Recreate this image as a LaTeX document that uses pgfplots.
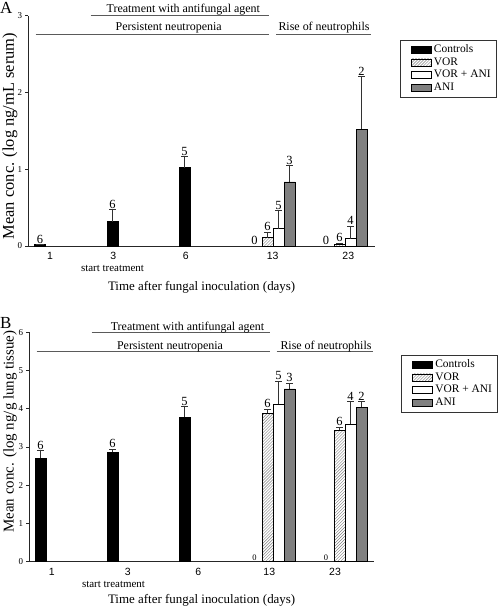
\documentclass[border=0pt]{standalone}
\usepackage{fontspec}
\setmainfont{Liberation Serif}
\setsansfont{Liberation Sans}
\usepackage{pgfplots}
\pgfplotsset{compat=1.18}
\usepackage{pgfplotstable}
\usetikzlibrary{patterns}
\definecolor{anigray}{RGB}{128,128,128}
\definecolor{errc}{RGB}{50,50,50}
\definecolor{anncol}{RGB}{90,90,90}

% ---------- Panel A data (x = horizontal position, y = mean, e = +error) ----------
\pgfplotstableread{
x y e
40 0.02 0
112.5 0.316 0.154
184.5 1.02 0.14
}\AControls
\pgfplotstableread{
x y e
267.5 0.108 0.072
339.5 0.025 0.01
}\AVOR
\pgfplotstableread{
x y e
278.5 0.225 0.235
350.5 0.095 0.165
}\AVORANI
\pgfplotstableread{
x y e
289.5 0.835 0.215
361.5 1.52 0.69
}\AANI
\pgfplotstableread{
x y n
40 0.02 6
112.5 0.47 6
184.5 1.16 5
254.5 0 0
267.5 0.18 6
278.5 0.46 5
289.5 1.05 3
326 0 0
339.5 0.035 6
350.5 0.26 4
361.5 2.21 2
}\ALabels

% ---------- Panel B data ----------
\pgfplotstableread{
x y e
40.5 2.70 0.20
112.5 2.86 0.08
184.5 3.78 0.27
}\BControls
\pgfplotstableread{
x y e
267.5 3.88 0.11
339.5 3.44 0.08
}\BVOR
\pgfplotstableread{
x y e
278.5 4.12 0.60
350.5 3.60 0.59
}\BVORANI
\pgfplotstableread{
x y e
289.5 4.52 0.15
361.5 4.04 0.15
}\BANI
\pgfplotstableread{
x y n
40.5 2.90 6
112.5 2.94 6
184.5 4.05 5
267.5 3.99 6
278.5 4.72 5
289.5 4.67 3
339.5 3.52 6
350.5 4.19 4
361.5 4.19 2
}\BLabels
\pgfplotstableread{
x y n
254.5 0 0
326 0 0
}\BZeros

\pgfplotsset{
  mylegend/.style={legend image code/.code={\path (0bp,0bp) (28bp,0bp);\draw[##1] (6.5bp,-3.5bp) rectangle (26.5bp,3.5bp);}},
  mybar/.style={ybar, bar width=11, bar shift=0pt, mylegend, draw=black, line width=0.6pt,
    error bars/y dir=plus, error bars/y explicit,
    error bars/error bar style={color=errc, line width=0.8pt},
    error bars/error mark options={rotate=90, mark size=3.5bp, color=errc, line width=0.8pt}},
  lbl/.style={draw=none, mark=none, forget plot, nodes near coords, point meta=explicit symbolic,
    every node near coord/.append style={anchor=south, inner sep=1pt, text=black, font=\fontsize{12.5}{12.5}\selectfont}},
  panel/.style={
    scale only axis, enlargelimits=false, clip=false,
    axis x line*=bottom, axis y line*=left,
    axis line style={line width=0.8pt, color=black!85},
    tick align=outside,
    xtick style={draw=none},
    ytick style={line width=0.8pt, color=black!85},
    major tick length=3bp,
    xticklabel style={font=\fontsize{10.5}{10.5}\sffamily, inner sep=0pt, anchor=north},
    xticklabel shift=3bp,
    yticklabel style={font=\fontsize{9}{9}\selectfont, inner sep=0pt, anchor=east},
    yticklabel shift=3bp,
    /pgf/number format/assume math mode=true,
    legend cell align=left,
    legend style={anchor=north west, draw=black!80, line width=0.6pt,
      font=\fontsize{11.5}{11.5}\selectfont, inner xsep=4.5bp, inner ysep=3.3bp,
      row sep=0pt, nodes={inner sep=1pt, text height=8bp, text depth=2.5bp}},
    xlabel style={font=\fontsize{13}{13}\selectfont, at={(axis description cs:0.5,0)}, anchor=base},
    ylabel style={rotate=0, anchor=center},
  },
}

\begin{document}
\begin{tikzpicture}
% ===================== Panel A =====================
\begin{axis}[panel,
  at={(28.3bp,-246bp)}, anchor=south west,
  width=346.7bp, height=230.5bp,
  xmin=28.3, xmax=375, ymin=0, ymax=3,
  xtick={50,113.3,185.7,272.7,348.3}, xticklabels={1,3,6,13,23},
  ytick={0,1,2,3},
  xlabel={Time after fungal inoculation (days)},
  xlabel style={yshift=-44bp},
  ylabel={Mean conc. (log ng/mL serum)},
  ylabel style={font=\fontsize{16.5}{16.5}\selectfont, at={(axis description cs:-0.0528,0.477)}},
  legend style={at={(axis description cs:1.0707,0.8937)}},
]
\addplot[mybar, fill=black] table[x=x,y=y,y error=e] {\AControls};
\addlegendentry{Controls}
\addplot[mybar, fill=white, pattern=north east lines, pattern color=gray] table[x=x,y=y,y error=e] {\AVOR};
\addlegendentry{VOR}
\addplot[mybar, fill=white] table[x=x,y=y,y error=e] {\AVORANI};
\addlegendentry{VOR + ANI}
\addplot[mybar, fill=anigray] table[x=x,y=y,y error=e] {\AANI};
\addlegendentry{ANI}
\addplot[lbl] table[x=x,y=y,meta=n] {\ALabels};
% period annotations
\draw[anncol, line width=0.8pt] (axis cs:90.7,3.0) -- (axis cs:269,3.0);
\draw[anncol, line width=0.8pt] (axis cs:35.7,2.75) -- (axis cs:269,2.75);
\draw[anncol, line width=0.8pt] (axis cs:276,2.75) -- (axis cs:370.7,2.75);
\node[anchor=base, font=\fontsize{12}{12}\selectfont] at (axis cs:183.3,3.042) {Treatment with antifungal agent};
\node[anchor=base, font=\fontsize{12}{12}\selectfont] at (axis cs:168.7,2.805) {Persistent neutropenia};
\node[anchor=base, font=\fontsize{12}{12}\selectfont] at (axis cs:324,2.805) {Rise of neutrophils};
\node[anchor=base, font=\fontsize{11}{11}\selectfont, yshift=-25bp] at (axis cs:112.5,0) {start treatment};
\end{axis}

% ===================== Panel B =====================
\begin{axis}[panel,
  at={(29.3bp,-561.7bp)}, anchor=south west,
  width=344.7bp, height=229.4bp,
  xmin=29.3, xmax=374, ymin=0, ymax=6,
  xtick={51.7,127.7,198.3,269.3,335}, xticklabels={1,3,6,13,23},
  ytick={0,1,2,3,4,5,6},
  xlabel={Time after fungal inoculation (days)},
  xlabel style={yshift=-41.8bp},
  ylabel={Mean conc. (log ng/g lung tissue)},
  ylabel style={font=\fontsize{15}{15}\selectfont, at={(axis description cs:-0.056,0.5676)}},
  legend style={at={(axis description cs:1.078,0.901)}},
]
\addplot[mybar, fill=black] table[x=x,y=y,y error=e] {\BControls};
\addlegendentry{Controls}
\addplot[mybar, fill=white, pattern=north east lines, pattern color=gray] table[x=x,y=y,y error=e] {\BVOR};
\addlegendentry{VOR}
\addplot[mybar, fill=white] table[x=x,y=y,y error=e] {\BVORANI};
\addlegendentry{VOR + ANI}
\addplot[mybar, fill=anigray] table[x=x,y=y,y error=e] {\BANI};
\addlegendentry{ANI}
\addplot[lbl] table[x=x,y=y,meta=n] {\BLabels};
\addplot[lbl, every node near coord/.append style={font=\fontsize{8.5}{8.5}\selectfont}] table[x=x,y=y,meta=n] {\BZeros};
\draw[anncol, line width=0.8pt] (axis cs:91.7,6.0) -- (axis cs:270,6.0);
\draw[anncol, line width=0.8pt] (axis cs:36.7,5.49) -- (axis cs:270,5.49);
\draw[anncol, line width=0.8pt] (axis cs:276.7,5.49) -- (axis cs:372.7,5.49);
\node[anchor=base, font=\fontsize{12}{12}\selectfont] at (axis cs:187.5,6.06) {Treatment with antifungal agent};
\node[anchor=base, font=\fontsize{12}{12}\selectfont] at (axis cs:170,5.56) {Persistent neutropenia};
\node[anchor=base, font=\fontsize{12}{12}\selectfont] at (axis cs:326,5.56) {Rise of neutrophils};
\node[anchor=base, font=\fontsize{11}{11}\selectfont, yshift=-25.8bp] at (axis cs:113.5,0) {start treatment};
\end{axis}

% panel letters
\node[anchor=base west, inner sep=0pt, font=\fontsize{17}{17}\selectfont] at (0bp,-13.5bp) {A};
\node[anchor=base west, inner sep=0pt, font=\fontsize{17}{17}\selectfont] at (0bp,-328bp) {B};

\pgfresetboundingbox
\path[use as bounding box] (0,0) rectangle (500bp,-612bp);
\end{tikzpicture}
\end{document}
